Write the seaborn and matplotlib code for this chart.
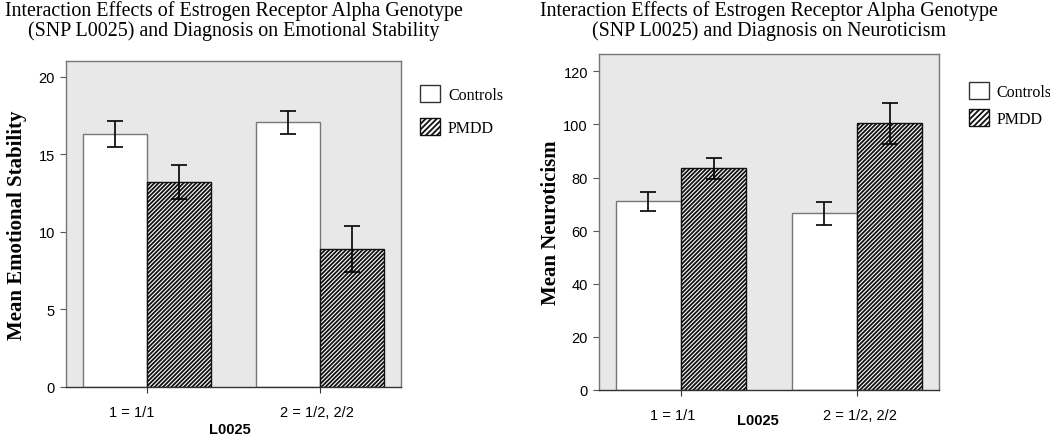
import matplotlib
matplotlib.use("Agg")
import matplotlib.pyplot as plt
from matplotlib.patches import Patch
from matplotlib.transforms import ScaledTranslation
import pandas as pd
import seaborn as sns

# ---------------------------------------------------------------------- #
# Data
# ---------------------------------------------------------------------- #
genotypes = ["1 = 1/1", "2 = 1/2, 2/2"]
groups = ["Controls", "PMDD"]

stab_controls = [16.3, 17.05]
stab_controls_err = [0.83, 0.74]
stab_pmdd = [13.2, 8.9]
stab_pmdd_err = [1.12, 1.5]

neuro_controls = [71.0, 66.5]
neuro_controls_err = [3.45, 4.25]
neuro_pmdd = [83.4, 100.4]
neuro_pmdd_err = [3.9, 7.7]

stab_ticks = [0, 5, 10, 15, 20]
neuro_ticks = [0, 20, 40, 60, 80, 100, 120]

SERIF = "Liberation Serif"
SANS = "Liberation Sans"
BG = "#e8e8e8"
HATCH = "////////"


def _long(ctrl, ctrl_err, pmdd, pmdd_err):
    rows = []
    for g, vals, errs in (("Controls", ctrl, ctrl_err), ("PMDD", pmdd, pmdd_err)):
        for geno, v, e in zip(genotypes, vals, errs):
            rows.append({"genotype": geno, "group": g, "mean": v, "err": e})
    return pd.DataFrame(rows)


def draw_panel(fig, rect, df, ylim, yticks, ylabel, title, ylab_x,
               xlab_xy, leg_anchor, leg_spacing, label_dx):
    ax = fig.add_axes(rect)
    ax.set_facecolor(BG)
    sns.barplot(data=df, x="genotype", y="mean", hue="group",
                order=genotypes, hue_order=groups,
                palette={"Controls": "white", "PMDD": "white"},
                width=0.742, errorbar=None, edgecolor="#777777",
                linewidth=1.0, legend=False, ax=ax, zorder=2)
    for cont, g in zip(ax.containers, groups):
        sub = df[df.group == g].set_index("genotype").loc[genotypes]
        for bar, (_, r) in zip(cont, sub.iterrows()):
            if g == "PMDD":
                bar.set_hatch(HATCH)
                bar.set_edgecolor("#111111")
            ax.errorbar(bar.get_x() + bar.get_width() / 2, bar.get_height(),
                        yerr=r["err"], color="black", lw=1.2, capsize=5.8,
                        capthick=1.2, zorder=3)

    ax.set_xlim(-0.467, 1.467)
    ax.set_ylim(*ylim)
    ax.set_yticks(yticks)
    for s in ax.spines.values():
        s.set_color("#777777")
        s.set_linewidth(1.0)
    ax.spines["bottom"].set_color("#333333")
    ax.tick_params(axis="y", length=4, color="#555555", pad=4,
                   labelsize=10.5)
    ax.tick_params(axis="x", length=4, color="#333333", pad=9,
                   labelsize=10.5)
    for lab in ax.get_xticklabels() + ax.get_yticklabels():
        lab.set_fontfamily(SANS)
    for lab, dx in zip(ax.get_xticklabels(), label_dx):
        lab.set_transform(lab.get_transform() +
                          ScaledTranslation(dx / 100, 0, fig.dpi_scale_trans))

    ax.set_xlabel("L0025", fontfamily=SANS, fontweight="bold", fontsize=10.5)
    ax.xaxis.set_label_coords(*xlab_xy)
    ax.xaxis.label.set_va("center")
    ax.set_ylabel(ylabel, fontfamily=SERIF, fontweight="bold", fontsize=15)
    ax.yaxis.set_label_coords(ylab_x, 0.5)
    ax.yaxis.label.set_va("center")

    x_mid = rect[0] + rect[2] / 2
    fig.text(x_mid, 1 - 1 / 439, title, ha="center", va="top",
             fontfamily=SERIF, fontsize=14.4, linespacing=1.05)

    handles = [Patch(facecolor="white", edgecolor="#333333", lw=1.0),
               Patch(facecolor="white", edgecolor="#111111", hatch="//////",
                     lw=1.0)]
    ax.legend(handles, groups, loc="upper left", bbox_to_anchor=leg_anchor,
              frameon=False, prop={"family": SERIF, "size": 11.5},
              handlelength=1.25, handleheight=1.25, handletextpad=0.5,
              labelspacing=leg_spacing, borderpad=0, borderaxespad=0)
    return ax


plt.rcParams["hatch.linewidth"] = 1.3
plt.rcParams["hatch.color"] = "#111111"

fig = plt.figure(figsize=(10.5, 4.39), dpi=100)

draw_panel(fig, [66 / 1050, 1 - 388 / 439, 335 / 1050, 326 / 439],
           _long(stab_controls, stab_controls_err, stab_pmdd, stab_pmdd_err),
           (0, 21.0), stab_ticks, "Mean Emotional Stability",
           "Interaction Effects of Estrogen Receptor Alpha Genotype\n"
           "(SNP L0025) and Diagnosis on Emotional Stability",
           -0.146, (0.49, -0.129), (1.057, 0.926), 0.95, [-15, -3])

draw_panel(fig, [599 / 1050, 1 - 391 / 439, 340 / 1050, 336 / 439],
           _long(neuro_controls, neuro_controls_err, neuro_pmdd, neuro_pmdd_err),
           (0, 126.5), neuro_ticks, "Mean Neuroticism",
           "Interaction Effects of Estrogen Receptor Alpha Genotype\n"
           "(SNP L0025) and Diagnosis on Neuroticism",
           -0.141, (0.468, -0.089), (1.088, 0.917), 0.6, [-8, 3])

fig.savefig("out.png", dpi=100)
plt.close(fig)
